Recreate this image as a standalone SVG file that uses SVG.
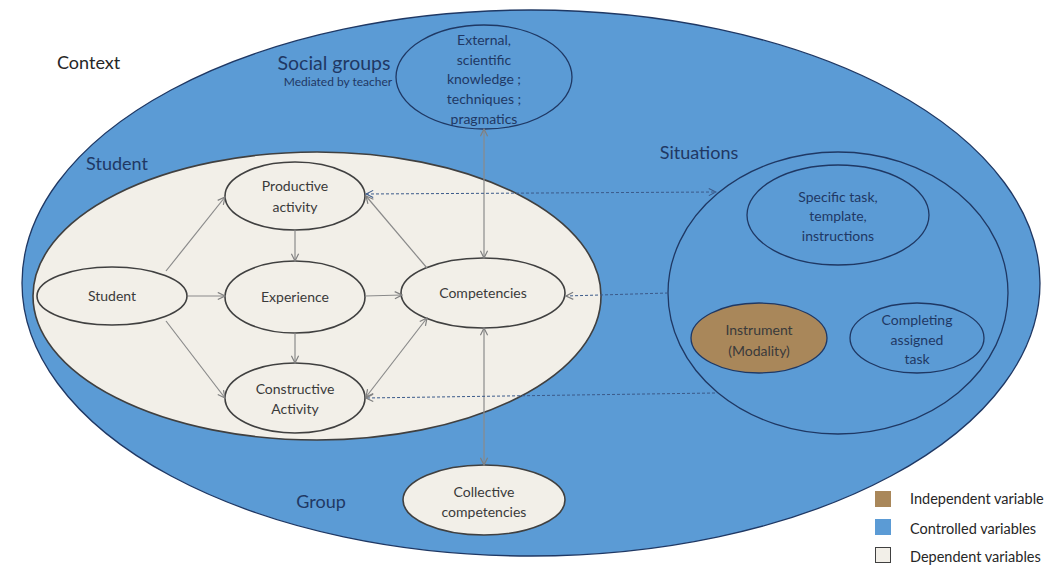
<svg xmlns="http://www.w3.org/2000/svg" width="1052" height="565" viewBox="0 0 1052 565">
<defs>
<marker id="ah" viewBox="0 0 10 10" refX="9" refY="5" markerWidth="9" markerHeight="9" markerUnits="userSpaceOnUse" orient="auto-start-reverse">
<path d="M1,1 L9,5 L1,9" fill="none" stroke="#7f7f7f" stroke-width="1.3"/>
</marker>
<marker id="ahd" viewBox="0 0 10 10" refX="9" refY="5" markerWidth="9" markerHeight="9" markerUnits="userSpaceOnUse" orient="auto-start-reverse">
<path d="M1,1 L9,5 L1,9" fill="none" stroke="#3b5a8a" stroke-width="1.2"/>
</marker>
</defs>
<style>
text{font-family:Lato,"Open Sans","Liberation Sans",sans-serif;text-anchor:middle}
.big{font-size:18px;fill:#1f3864}
.ctx{font-size:18px;fill:#262626;text-anchor:start}
.n{font-size:14px;fill:#3a3a3a}
.b{font-size:14px;fill:#1f3864}
.lg{font-size:14.5px;fill:#262626;text-anchor:start}
.beige{fill:#f2efe8;stroke:#404040;stroke-width:1.6}
.blue{fill:#5b9bd5;stroke:#1f3864;stroke-width:1.3}
.ln{stroke:#8a8a8a;stroke-width:1.2;fill:none}
.dl{stroke:#3b5a8a;stroke-width:1;stroke-dasharray:3 2;fill:none}
</style>
<rect width="1052" height="565" fill="#ffffff"/>
<g id="context">
<ellipse class="blue" cx="531" cy="283" rx="509" ry="273"/>
<text class="ctx" x="57" y="69">Context</text>
</g>
<g id="student-area">
<ellipse class="beige" cx="317" cy="296" rx="284" ry="144" stroke="#1f3864"/>
<text class="big" x="117" y="170">Student</text>
</g>
<g id="social-groups">
<text class="big" x="334" y="70" style="font-size:19.5px">Social groups</text>
<text class="b" x="338" y="86" style="font-size:12px">Mediated by teacher</text>
</g>
<g id="external">
<ellipse class="blue" cx="484" cy="77" rx="88" ry="52"/>
<text class="b" x="484" y="45">External,</text>
<text class="b" x="484" y="65">scientific</text>
<text class="b" x="484" y="84">knowledge ;</text>
<text class="b" x="484" y="104">techniques ;</text>
<text class="b" x="484" y="124">pragmatics</text>
</g>
<g id="situations">
<ellipse class="blue" cx="838" cy="293" rx="170" ry="141"/>
<text class="big" x="699" y="159">Situations</text>
</g>
<g id="specific-task">
<ellipse class="blue" cx="838" cy="215" rx="91" ry="50"/>
<text class="b" x="838" y="202">Specific task,</text>
<text class="b" x="838" y="221">template,</text>
<text class="b" x="838" y="241">instructions</text>
</g>
<g id="instrument">
<ellipse cx="759" cy="338" rx="68" ry="35" fill="#a9875a" stroke="#1f3864" stroke-width="1.3"/>
<text class="n" x="759" y="335">Instrument</text>
<text class="n" x="759" y="356">(Modality)</text>
</g>
<g id="completing">
<ellipse class="blue" cx="917" cy="338" rx="67" ry="35"/>
<text class="b" x="917" y="325">Completing</text>
<text class="b" x="917" y="345">assigned</text>
<text class="b" x="917" y="364">task</text>
</g>
<g id="productive">
<ellipse class="beige" cx="295" cy="196" rx="70" ry="34"/>
<text class="n" x="295" y="191">Productive</text>
<text class="n" x="295" y="212">activity</text>
</g>
<g id="student">
<ellipse class="beige" cx="112" cy="296" rx="75" ry="29"/>
<text class="n" x="112" y="301">Student</text>
</g>
<g id="experience">
<ellipse class="beige" cx="295" cy="297" rx="70" ry="36"/>
<text class="n" x="295" y="302">Experience</text>
</g>
<g id="competencies">
<ellipse class="beige" cx="483" cy="293" rx="82" ry="35"/>
<text class="n" x="483" y="298">Competencies</text>
</g>
<g id="constructive">
<ellipse class="beige" cx="295" cy="398" rx="70" ry="35"/>
<text class="n" x="295" y="394">Constructive</text>
<text class="n" x="295" y="414">Activity</text>
</g>
<g id="collective">
<ellipse class="beige" cx="484" cy="500" rx="81" ry="35" stroke="#1f3864"/>
<text class="n" x="484" y="497">Collective</text>
<text class="n" x="484" y="517">competencies</text>
</g>
<g id="group-label">
<text class="big" x="321" y="508">Group</text>
</g>
<g id="connectors">
<line class="ln" x1="166" y1="271" x2="225" y2="197" marker-end="url(#ah)"/>
<line class="ln" x1="188" y1="296" x2="225" y2="296" marker-end="url(#ah)"/>
<line class="ln" x1="166" y1="321" x2="225" y2="398" marker-end="url(#ah)"/>
<line class="ln" x1="295" y1="230" x2="295" y2="261" marker-end="url(#ah)"/>
<line class="ln" x1="295" y1="333" x2="295" y2="363" marker-end="url(#ah)"/>
<line class="ln" x1="365" y1="296" x2="402" y2="295" marker-end="url(#ah)"/>
<line class="ln" x1="427" y1="268" x2="366" y2="196" marker-end="url(#ah)"/>
<line class="ln" x1="427" y1="318" x2="366" y2="397" marker-start="url(#ah)" marker-end="url(#ah)"/>
<line class="ln" x1="484" y1="129" x2="484" y2="258" marker-start="url(#ah)" marker-end="url(#ah)"/>
<line class="ln" x1="484" y1="328" x2="484" y2="465" marker-start="url(#ah)" marker-end="url(#ah)"/>
<line class="dl" x1="366" y1="194" x2="716" y2="192" marker-start="url(#ahd)" marker-end="url(#ahd)"/>
<line class="dl" x1="668" y1="293" x2="566" y2="296" marker-end="url(#ah)"/>
<line class="dl" x1="715" y1="393" x2="366" y2="398" marker-end="url(#ah)"/>
</g>
<g id="legend">
<rect x="875" y="491" width="16" height="16" fill="#a9875a"/>
<text class="lg" x="910" y="504">Independent variable</text>
<rect x="875" y="519" width="16" height="16" fill="#5b9bd5"/>
<text class="lg" x="910" y="534">Controlled variables</text>
<rect x="875.5" y="547.5" width="15" height="15" fill="#f2efe8" stroke="#404040" stroke-width="1"/>
<text class="lg" x="910" y="562">Dependent variables</text>
</g>
</svg>
